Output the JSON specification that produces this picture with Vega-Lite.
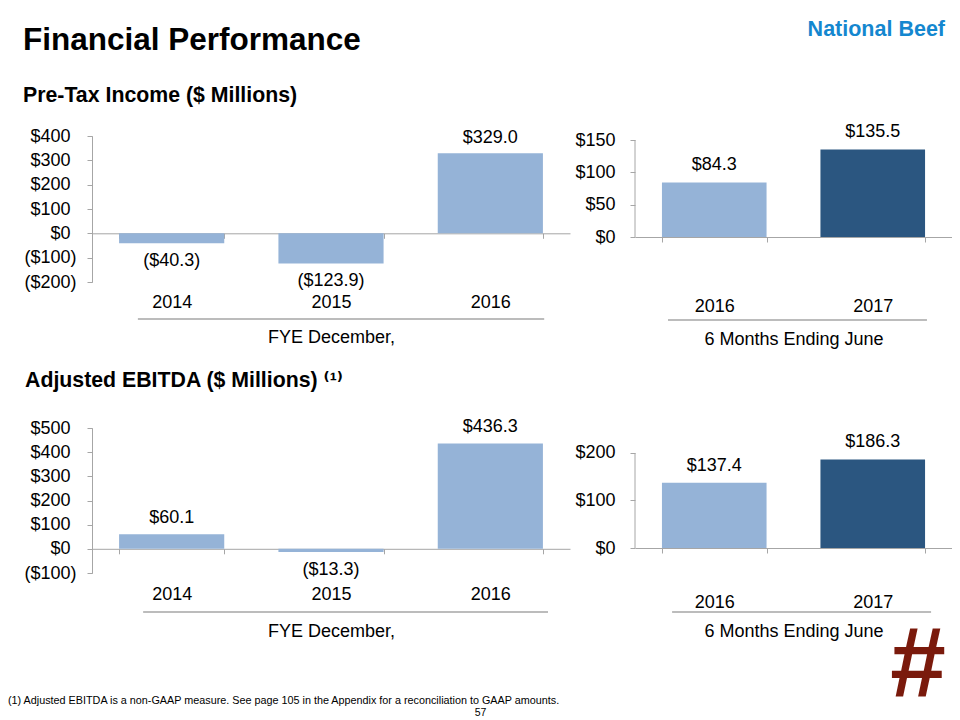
{
  "$schema": "https://vega.github.io/schema/vega-lite/v6.json",
  "autosize": {"type": "pad"},
  "padding": {"left": 8, "top": 18, "right": 0, "bottom": 0},
  "background": "white",
  "columns": 2,
  "spacing": {"row": 146, "column": 65},
  "bounds": "flush",
  "config": {
    "font": "Liberation Sans",
    "view": {"stroke": null},
    "axis": {"labelFont": "Liberation Sans", "titleFont": "Liberation Sans", "labelColor": "#000", "titleColor": "#000", "labelFontSize": 18, "titleFontSize": 18, "titleFontWeight": "normal", "grid": false},
    "title": {"font": "Liberation Sans", "subtitleFont": "Liberation Sans", "color": "#000", "subtitleColor": "#000"},
    "text": {"font": "Liberation Sans", "fontSize": 18, "color": "#000"}
  },
  "concat": [
    {
      "width": 478, "height": 146,
      "title": {"text": "Financial Performance", "subtitle": "Pre-Tax Income ($ Millions)", "anchor": "start", "frame": "group", "dx": -69, "offset": 21, "fontSize": 31.5, "fontWeight": "bold", "subtitleFontSize": 21.3, "subtitleFontWeight": "bold", "subtitlePadding": 28},
      "data": {"values": [{"year": "2014", "v": -40.3}, {"year": "2015", "v": -123.9}, {"year": "2016", "v": 329.0}]},
      "transform": [{"calculate": "datum.v < 0 ? '($' + format(-datum.v, '.1f') + ')' : '$' + format(datum.v, '.1f')", "as": "label"}],
      "resolve": {"scale": {"x": "independent"}, "axis": {"y": "independent"}},
      "layer": [
        {
          "mark": {"type": "bar", "color": "#95B3D7"},
          "encoding": {
            "x": {"field": "year", "type": "nominal", "scale": {"domain": ["2014", "2015", "2016"], "paddingInner": 0.34, "paddingOuter": 0.17}, "axis": {"orient": "bottom", "offset": -48.7, "labels": false, "title": null, "domainColor": "#A6A6A6", "tickColor": "#A6A6A6", "ticks": true, "tickBand": "extent", "tickSize": 5}},
            "y": {"field": "v", "type": "quantitative", "scale": {"domain": [-200, 400], "nice": false, "zero": false}, "axis": {"orient": "left", "values": [0, 100, 200, 300, 400], "labelExpr": "'$' + datum.value", "title": null, "domainColor": "#A6A6A6", "tickColor": "#A6A6A6", "tickSize": 5, "labelPadding": 17}}
          }
        },
        {
          "transform": [{"filter": "datum.v >= 0"}],
          "mark": {"type": "text", "baseline": "middle", "dy": -15},
          "encoding": {
            "x": {"field": "year", "type": "nominal", "scale": {"domain": ["2014", "2015", "2016"], "paddingInner": 0.34, "paddingOuter": 0.17}, "axis": {"orient": "bottom", "domain": false, "ticks": false, "tickSize": 0, "labelPadding": 11, "labelAngle": 0, "title": "FYE December,", "titlePadding": 17}},
            "y": {"field": "v", "type": "quantitative", "axis": {"orient": "left", "values": [-200, -100], "labelExpr": "'($' + (-datum.value) + ')'", "title": null, "domainColor": "#A6A6A6", "tickColor": "#A6A6A6", "tickSize": 5, "labelPadding": 11}},
            "text": {"field": "label"}
          }
        },
        {
          "transform": [{"filter": "datum.v < 0"}],
          "mark": {"type": "text", "baseline": "middle", "dy": 18},
          "encoding": {
            "x": {"field": "year", "type": "nominal", "scale": {"domain": ["2014", "2015", "2016"], "paddingInner": 0.34, "paddingOuter": 0.17}, "axis": null},
            "y": {"field": "v", "type": "quantitative", "axis": {"orient": "left", "domain": false, "ticks": false, "labels": false, "title": null}},
            "text": {"field": "label"}
          }
        },
        {
          "data": {"values": [{}]},
          "mark": {"type": "rule", "color": "#A6A6A6", "strokeWidth": 1.5},
          "encoding": {
            "x": {"datum": 0.096, "type": "quantitative", "scale": {"domain": [0, 1], "nice": false, "zero": false}, "axis": null},
            "x2": {"datum": 0.946},
            "y": {"datum": -352, "type": "quantitative", "axis": {"orient": "left", "domain": false, "ticks": false, "labels": false, "title": null}}
          }
        }
      ]
    },
    {
      "width": 317, "height": 101,
      "title": {"text": "National Beef", "anchor": "end", "frame": "group", "dx": -7, "offset": 83, "fontSize": 21.5, "fontWeight": "bold", "color": "#1487CF"},
      "data": {"values": [{"year": "2016", "v": 84.3}, {"year": "2017", "v": 135.5}]},
      "transform": [{"calculate": "datum.v < 0 ? '($' + format(-datum.v, '.1f') + ')' : '$' + format(datum.v, '.1f')", "as": "label"}],
      "resolve": {"scale": {"x": "independent"}},
      "layer": [
        {
          "mark": {"type": "bar"},
          "encoding": {
            "x": {"field": "year", "type": "nominal", "scale": {"domain": ["2016", "2017"], "paddingInner": 0.34, "paddingOuter": 0.17}, "axis": {"orient": "bottom", "labels": false, "title": null, "domainColor": "#A6A6A6", "tickColor": "#A6A6A6", "ticks": true, "tickBand": "extent", "tickSize": 5}},
            "y": {"field": "v", "type": "quantitative", "scale": {"domain": [0, 156.2], "nice": false, "zero": false}, "axis": {"values": [0, 50, 100, 150], "labelExpr": "'$' + datum.value", "title": null, "domain": false, "tickColor": "#A6A6A6", "tickSize": 5, "labelPadding": 15}},
            "color": {"field": "year", "type": "nominal", "scale": {"domain": ["2016", "2017"], "range": ["#95B3D7", "#2B5680"]}, "legend": null}
          }
        },
        {
          "mark": {"type": "text", "baseline": "middle", "dy": -17},
          "encoding": {
            "x": {"field": "year", "type": "nominal", "scale": {"domain": ["2016", "2017"], "paddingInner": 0.34, "paddingOuter": 0.17}, "axis": {"orient": "bottom", "domain": false, "ticks": false, "tickSize": 0, "labelPadding": 60, "labelAngle": 0, "title": "6 Months Ending June", "titlePadding": 15}},
            "y": {"field": "v", "type": "quantitative", "axis": {"values": [0, 50, 100, 150], "labelExpr": "'$' + datum.value", "title": null, "domain": false, "tickColor": "#A6A6A6", "tickSize": 5, "labelPadding": 15}},
            "text": {"field": "label"}
          }
        },
        {
          "data": {"values": [{}]},
          "mark": {"type": "rule", "color": "#A6A6A6", "strokeWidth": 1},
          "encoding": {
            "x": {"datum": 0, "type": "quantitative", "scale": {"domain": [0, 1], "nice": false, "zero": false}, "axis": null},
            "y": {"datum": 0, "type": "quantitative", "axis": {"values": [0, 50, 100, 150], "labelExpr": "'$' + datum.value", "title": null, "domain": false, "tickColor": "#A6A6A6", "tickSize": 5, "labelPadding": 15}},
            "y2": {"datum": 150}
          }
        },
        {
          "data": {"values": [{}]},
          "mark": {"type": "rule", "color": "#A6A6A6", "strokeWidth": 1.5},
          "encoding": {
            "x": {"datum": 0.104, "type": "quantitative", "scale": {"domain": [0, 1], "nice": false, "zero": false}, "axis": {"orient": "bottom", "domain": false, "ticks": false, "labels": false, "title": "#", "titleFontSize": 100, "titleFontWeight": "bold", "titleFontStyle": "italic", "titleColor": "#7A1A0C", "titleX": 281, "titleY": 429, "titleBaseline": "middle", "titleAlign": "center"}},
            "x2": {"datum": 0.921},
            "y": {"datum": -128.3, "type": "quantitative", "axis": {"values": [0, 50, 100, 150], "labelExpr": "'$' + datum.value", "title": null, "domain": false, "tickColor": "#A6A6A6", "tickSize": 5, "labelPadding": 15}}
          }
        }
      ]
    },
    {
      "width": 478, "height": 145,
      "title": {"text": "Adjusted EBITDA ($ Millions) \u207d\u00b9\u207e", "anchor": "start", "frame": "group", "dx": -67, "offset": 27, "fontSize": 21.3, "fontWeight": "bold", "font": "Liberation Sans, DejaVu Sans"},
      "data": {"values": [{"year": "2014", "v": 60.1}, {"year": "2015", "v": -13.3}, {"year": "2016", "v": 436.3}]},
      "transform": [{"calculate": "datum.v < 0 ? '($' + format(-datum.v, '.1f') + ')' : '$' + format(datum.v, '.1f')", "as": "label"}],
      "resolve": {"scale": {"x": "independent"}, "axis": {"y": "independent"}},
      "layer": [
        {
          "mark": {"type": "bar", "color": "#95B3D7"},
          "encoding": {
            "x": {"field": "year", "type": "nominal", "scale": {"domain": ["2014", "2015", "2016"], "paddingInner": 0.34, "paddingOuter": 0.17}, "axis": {"orient": "bottom", "offset": -24.2, "labels": false, "title": null, "domainColor": "#A6A6A6", "tickColor": "#A6A6A6", "ticks": true, "tickBand": "extent", "tickSize": 5}},
            "y": {"field": "v", "type": "quantitative", "scale": {"domain": [-100, 500], "nice": false, "zero": false}, "axis": {"orient": "left", "values": [0, 100, 200, 300, 400, 500], "labelExpr": "'$' + datum.value", "title": null, "domainColor": "#A6A6A6", "tickColor": "#A6A6A6", "tickSize": 5, "labelPadding": 17}}
          }
        },
        {
          "transform": [{"filter": "datum.v >= 0"}],
          "mark": {"type": "text", "baseline": "middle", "dy": -16},
          "encoding": {
            "x": {"field": "year", "type": "nominal", "scale": {"domain": ["2014", "2015", "2016"], "paddingInner": 0.34, "paddingOuter": 0.17}, "axis": {"orient": "bottom", "domain": false, "ticks": false, "tickSize": 0, "labelPadding": 12, "labelAngle": 0, "title": "FYE December,", "titlePadding": 19}},
            "y": {"field": "v", "type": "quantitative", "axis": {"orient": "left", "values": [-100], "labelExpr": "'($' + (-datum.value) + ')'", "title": null, "domainColor": "#A6A6A6", "tickColor": "#A6A6A6", "tickSize": 5, "labelPadding": 11}},
            "text": {"field": "label"}
          }
        },
        {
          "transform": [{"filter": "datum.v < 0"}],
          "mark": {"type": "text", "baseline": "middle", "dy": 18},
          "encoding": {
            "x": {"field": "year", "type": "nominal", "scale": {"domain": ["2014", "2015", "2016"], "paddingInner": 0.34, "paddingOuter": 0.17}, "axis": null},
            "y": {"field": "v", "type": "quantitative", "axis": {"orient": "left", "domain": false, "ticks": false, "labels": false, "title": null}},
            "text": {"field": "label"}
          }
        },
        {
          "data": {"values": [{}]},
          "mark": {"type": "rule", "color": "#A6A6A6", "strokeWidth": 1.5},
          "encoding": {
            "x": {"datum": 0.107, "type": "quantitative", "scale": {"domain": [0, 1], "nice": false, "zero": false}, "axis": {"orient": "bottom", "domain": false, "ticks": false, "labels": false, "title": "57", "titleFontSize": 10.5, "titleX": 388, "titleY": 139, "titleBaseline": "middle", "titleAlign": "center"}},
            "x2": {"datum": 0.954},
            "y": {"datum": -261.4, "type": "quantitative", "axis": {"orient": "left", "domain": false, "ticks": false, "labels": false, "title": null}}
          }
        }
      ]
    },
    {
      "width": 317, "height": 120,
      "title": {"text": "(1)  Adjusted EBITDA is a non-GAAP measure.  See page 105 in the Appendix for a reconciliation to GAAP amounts.", "orient": "bottom", "anchor": "start", "frame": "group", "dx": -627, "offset": 55, "fontSize": 10.8, "fontWeight": "normal"},
      "data": {"values": [{"year": "2016", "v": 137.4}, {"year": "2017", "v": 186.3}]},
      "transform": [{"calculate": "datum.v < 0 ? '($' + format(-datum.v, '.1f') + ')' : '$' + format(datum.v, '.1f')", "as": "label"}],
      "resolve": {"scale": {"x": "independent"}},
      "layer": [
        {
          "mark": {"type": "bar"},
          "encoding": {
            "x": {"field": "year", "type": "nominal", "scale": {"domain": ["2016", "2017"], "paddingInner": 0.34, "paddingOuter": 0.17}, "axis": {"orient": "bottom", "labels": false, "title": null, "domainColor": "#A6A6A6", "tickColor": "#A6A6A6", "ticks": true, "tickBand": "extent", "tickSize": 5}},
            "y": {"field": "v", "type": "quantitative", "scale": {"domain": [0, 252.6], "nice": false, "zero": false}, "axis": {"values": [0, 100, 200], "labelExpr": "'$' + datum.value", "title": null, "domain": false, "tickColor": "#A6A6A6", "tickSize": 5, "labelPadding": 15}},
            "color": {"field": "year", "type": "nominal", "scale": {"domain": ["2016", "2017"], "range": ["#95B3D7", "#2B5680"]}, "legend": null}
          }
        },
        {
          "mark": {"type": "text", "baseline": "middle", "dy": -17},
          "encoding": {
            "x": {"field": "year", "type": "nominal", "scale": {"domain": ["2016", "2017"], "paddingInner": 0.34, "paddingOuter": 0.17}, "axis": {"orient": "bottom", "domain": false, "ticks": false, "tickSize": 0, "labelPadding": 45, "labelAngle": 0, "title": "6 Months Ending June", "titlePadding": 11}},
            "y": {"field": "v", "type": "quantitative", "axis": {"values": [0, 100, 200], "labelExpr": "'$' + datum.value", "title": null, "domain": false, "tickColor": "#A6A6A6", "tickSize": 5, "labelPadding": 15}},
            "text": {"field": "label"}
          }
        },
        {
          "data": {"values": [{}]},
          "mark": {"type": "rule", "color": "#A6A6A6", "strokeWidth": 1},
          "encoding": {
            "x": {"datum": 0, "type": "quantitative", "scale": {"domain": [0, 1], "nice": false, "zero": false}, "axis": null},
            "y": {"datum": 0, "type": "quantitative", "axis": {"values": [0, 100, 200], "labelExpr": "'$' + datum.value", "title": null, "domain": false, "tickColor": "#A6A6A6", "tickSize": 5, "labelPadding": 15}},
            "y2": {"datum": 200}
          }
        },
        {
          "data": {"values": [{}]},
          "mark": {"type": "rule", "color": "#A6A6A6", "strokeWidth": 1.5},
          "encoding": {
            "x": {"datum": 0.117, "type": "quantitative", "scale": {"domain": [0, 1], "nice": false, "zero": false}, "axis": null},
            "x2": {"datum": 0.934},
            "y": {"datum": -134.7, "type": "quantitative", "axis": {"values": [0, 100, 200], "labelExpr": "'$' + datum.value", "title": null, "domain": false, "tickColor": "#A6A6A6", "tickSize": 5, "labelPadding": 15}}
          }
        }
      ]
    }
  ]
}
